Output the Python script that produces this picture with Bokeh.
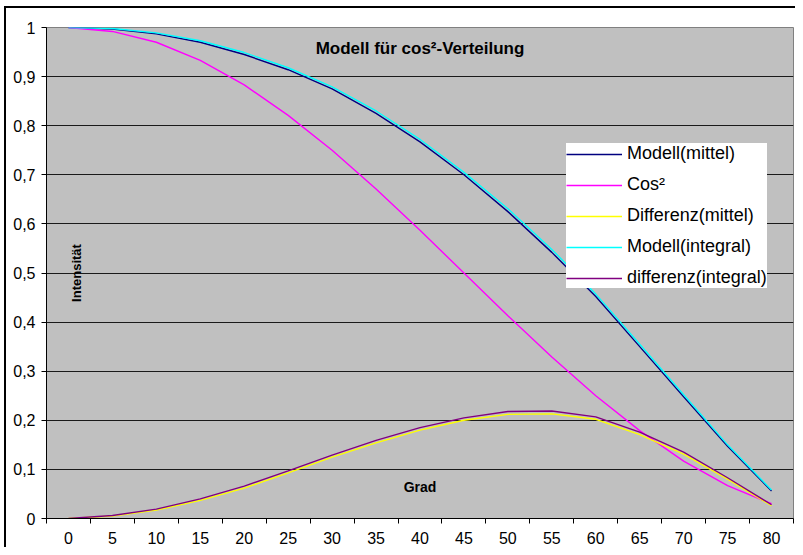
from bokeh.plotting import figure
from bokeh.models import FixedTicker, CustomJSTickFormatter, Legend, LegendItem, Label, Range1d
from bokeh.embed import file_html
from bokeh.resources import INLINE
import math

# ---- data ----
grad = [0, 5, 10, 15, 20, 25, 30, 35, 40, 45, 50, 55, 60, 65, 70, 75, 80]
modell_mittel = [1.000, 0.997, 0.987, 0.970, 0.945, 0.914, 0.875, 0.825, 0.767,
                 0.700, 0.625, 0.542, 0.452, 0.350, 0.248, 0.147, 0.056]
cos2 = [1.000, 0.992, 0.970, 0.933, 0.883, 0.821, 0.750, 0.671, 0.587,
        0.500, 0.413, 0.329, 0.250, 0.179, 0.117, 0.067, 0.030]
differenz_mittel = [0.000, 0.005, 0.017, 0.037, 0.062, 0.093, 0.125, 0.154, 0.180,
                    0.200, 0.212, 0.213, 0.202, 0.171, 0.131, 0.080, 0.026]
modell_integral = [1.000, 0.998, 0.989, 0.973, 0.949, 0.918, 0.879, 0.830, 0.772,
                   0.705, 0.631, 0.548, 0.457, 0.355, 0.252, 0.150, 0.058]
differenz_integral = [0.000, 0.006, 0.019, 0.040, 0.066, 0.097, 0.129, 0.159, 0.185,
                      0.205, 0.218, 0.219, 0.207, 0.176, 0.135, 0.083, 0.028]
y_ticks = [0.0, 0.1, 0.2, 0.3, 0.4, 0.5, 0.6, 0.7, 0.8, 0.9, 1.0]

series_names = ["Modell(mittel)", "Cos²", "Differenz(mittel)", "Modell(integral)", "differenz(integral)"]
series_colors = ["#000080", "#FF00FF", "#FFFF00", "#00FFFF", "#800080"]
series_values = [modell_mittel, cos2, differenz_mittel, modell_integral, differenz_integral]

FONT = "Liberation Sans"

frame_css = (":host::after { content: ''; position: absolute; left: 4px; top: 6px; "
             "width: calc(100% - 4px); height: calc(100% - 6px); "
             "border-top: 2px solid black; border-left: 2px solid black; "
             "box-sizing: border-box; pointer-events: none; z-index: 10; }")

p = figure(width=795, height=547,
           x_range=Range1d(-2.5, 82.5), y_range=Range1d(0, 1),
           output_backend="svg", toolbar_location=None,
           min_border_left=46, min_border_right=2, min_border_top=27, min_border_bottom=29,
           background_fill_color="#C0C0C0", border_fill_color="white",
           outline_line_color="#808080", outline_line_width=1,
           stylesheets=[frame_css])

# grid
p.xgrid.visible = False
p.ygrid.ticker = FixedTicker(ticks=y_ticks)
p.ygrid.grid_line_color = "#1a1a1a"
p.ygrid.grid_line_width = 1

# y axis
p.yaxis.ticker = FixedTicker(ticks=y_ticks)
p.yaxis.formatter = CustomJSTickFormatter(code="return (Math.round(tick*10)/10).toString().replace('.', ',');")
p.yaxis.axis_line_color = "black"
p.yaxis.major_tick_line_color = "black"
p.yaxis.major_tick_out = 5
p.yaxis.major_tick_in = 0
p.yaxis.minor_tick_line_color = None
p.yaxis.major_label_standoff = 6
p.yaxis.major_label_text_font = FONT
p.yaxis.major_label_text_font_size = "16px"
p.yaxis.major_label_text_color = "black"

# x axis: labels at category centres, tick marks between categories
boundaries = [g - 2.5 for g in grad] + [grad[-1] + 2.5]
p.xaxis.ticker = FixedTicker(ticks=grad, minor_ticks=boundaries)
p.xaxis.axis_line_color = "black"
p.xaxis.major_tick_line_color = None
p.xaxis.major_tick_out = 0
p.xaxis.major_tick_in = 0
p.xaxis.minor_tick_line_color = "black"
p.xaxis.minor_tick_out = 5
p.xaxis.minor_tick_in = 0
p.xaxis.major_label_standoff = 8
p.xaxis.major_label_text_font = FONT
p.xaxis.major_label_text_font_size = "16px"
p.xaxis.major_label_text_color = "black"

# series
items = []
for name, color, vals in zip(series_names, series_colors, series_values):
    r = p.line(grad, vals, line_color=color, line_width=1.4)
    items.append(LegendItem(label=name, renderers=[r]))

legend = Legend(items=items, location=(520, 230),
                background_fill_color="white", background_fill_alpha=1.0,
                border_line_color=None, padding=6, margin=0, spacing=10,
                label_height=20, glyph_height=20, glyph_width=56, label_standoff=5,
                label_text_font=FONT, label_text_font_size="18px", label_text_color="black")
p.add_layout(legend)

# texts inside the plot area
p.add_layout(Label(x=40, y=0.958, text="Modell für cos²-Verteilung",
                   text_font=FONT, text_font_size="17px", text_font_style="bold",
                   text_align="center", text_baseline="middle", text_color="black"))
p.add_layout(Label(x=40, y=0.065, text="Grad",
                   text_font=FONT, text_font_size="14px", text_font_style="bold",
                   text_align="center", text_baseline="middle", text_color="black"))
p.add_layout(Label(x=0.9, y=0.5, text="Intensität", angle=math.pi / 2,
                   text_font=FONT, text_font_size="13px", text_font_style="bold",
                   text_align="center", text_baseline="middle", text_color="black"))

open("out.html", "w").write(file_html(p, INLINE))
